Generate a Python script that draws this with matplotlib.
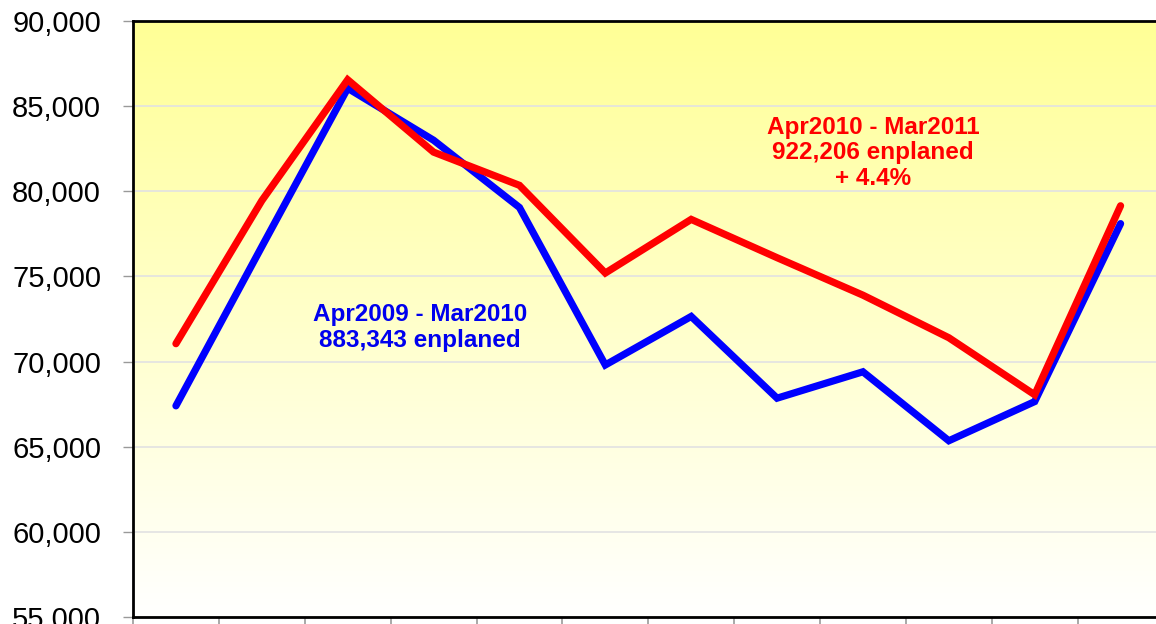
import numpy as np
import matplotlib.pyplot as plt
from matplotlib.ticker import FuncFormatter

# monthly enplanements, Apr..Mar
months = ["Apr", "May", "Jun", "Jul", "Aug", "Sep", "Oct", "Nov", "Dec", "Jan", "Feb", "Mar"]
fy2009 = [67400, 76750, 86050, 83000, 79050, 69800, 72650, 67850, 69400, 65350, 67650, 78100]
fy2010 = [71050, 79450, 86550, 82300, 80350, 75200, 78350, 76100, 73900, 71400, 68050, 79150]

plt.rcParams['font.family'] = ['Liberation Sans', 'DejaVu Sans']

fig = plt.figure(figsize=(11.56, 6.24), dpi=100)
ax = fig.add_axes([133/1156, 1 - 617/624, (1163.5 - 133)/1156, (617 - 21)/624])

x = np.arange(1, len(months) + 1)

# yellow -> white gradient background
grad = np.linspace(0, 1, 256).reshape(-1, 1)
top = np.array([255, 255, 150]) / 255
bot = np.array([255, 255, 255]) / 255
img = top[None, None, :] * (1 - grad[:, :, None]) + bot[None, None, :] * grad[:, :, None]
ax.imshow(img, extent=[0, 1, 0, 1], transform=ax.transAxes, aspect='auto', zorder=0)

ax.set_ylim(55000, 90000)
ax.set_xlim(0.5, 12.5)
ax.set_yticks(np.arange(55000, 90001, 5000))
ax.yaxis.set_major_formatter(FuncFormatter(lambda v, p: f"{int(v):,}"))
ax.set_xticks(np.arange(0.5, 12.6, 1))
ax.set_xticklabels([])
ax.grid(axis='y', color='#e2e2e2', linewidth=1.2, zorder=1)

ax.plot(x, fy2009, color='#0000ff', linewidth=5.2, solid_capstyle='round', solid_joinstyle='miter', zorder=3)
ax.plot(x, fy2010, color='#ff0000', linewidth=5.2, solid_capstyle='round', solid_joinstyle='miter', zorder=4)

ax.text(3.84, 72000, "Apr2009 - Mar2010\n883,343 enplaned", color='#0000ee', fontsize=17.5,
        fontweight='bold', ha='center', va='center', linespacing=1.15, zorder=5)
ax.text(9.12, 82250, "Apr2010 - Mar2011\n922,206 enplaned\n+ 4.4%", color='#ff0000', fontsize=17.5,
        fontweight='bold', ha='center', va='center', linespacing=1.15, zorder=5)

ax.tick_params(axis='y', labelsize=21, length=7, width=1, color='#999999', pad=16)
ax.tick_params(axis='x', length=7, width=1.2, color='#999999')
for s in ax.spines.values():
    s.set_linewidth(2)
    s.set_color('black')

fig.savefig('out.png', dpi=100)
